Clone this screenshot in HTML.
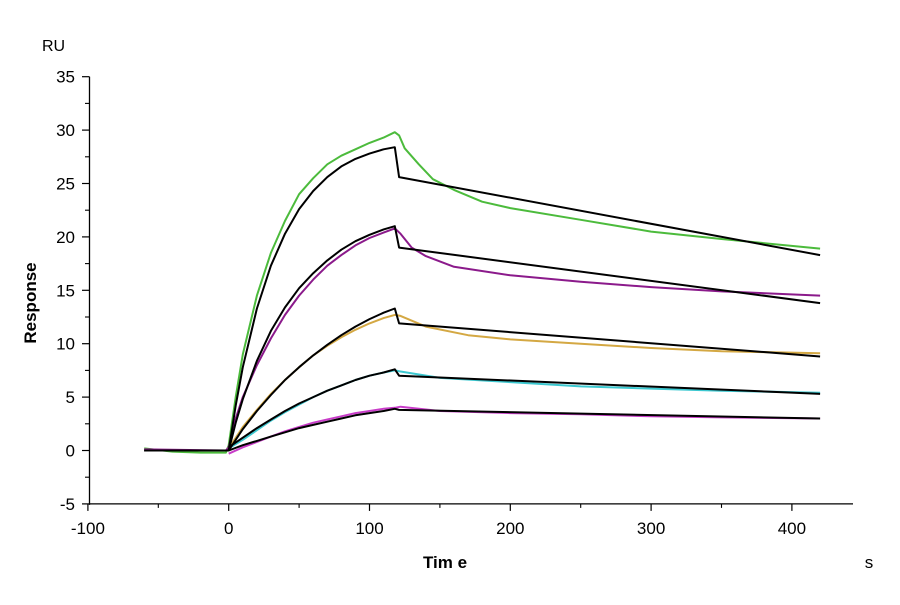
<!DOCTYPE html>
<html><head><meta charset="utf-8"><style>
body{margin:0;background:#fff}
svg text{font-family:"Liberation Sans",Arial,sans-serif;fill:#000}
</style></head><body>
<svg id="chart" width="900" height="600" viewBox="0 0 900 600" xmlns="http://www.w3.org/2000/svg">
<g id="axes"></g><g id="series"></g>
<text x="42" y="51" font-size="16">RU</text>
<text transform="translate(36,303) rotate(-90)" font-size="17" font-weight="bold" text-anchor="middle">Response</text>
<text x="445" y="568" font-size="17" font-weight="bold" text-anchor="middle">Tim e</text>
<text x="869" y="568" font-size="17" text-anchor="middle">s</text>
</svg>
<script>
const xTicks=[-100,0,100,200,300,400];
const yTicks=[-5,0,5,10,15,20,25,30,35];
const baseT=[-60,-40,-20,-2];
const greenRaw=[[-60,0.2],[-40,-0.1],[-20,-0.2],[-2,-0.2],[0,0.5],[5,5],[10,9],[20,14.5],[30,18.5],[40,21.5],[50,24],[60,25.5],[70,26.8],[80,27.6],[90,28.2],[100,28.8],[110,29.3],[118,29.8],[121,29.5],[125,28.3],[135,26.8],[145,25.4],[160,24.4],[180,23.3],[200,22.7],[250,21.6],[300,20.5],[350,19.8],[420,18.9]];
const greenFit=[[-60,0],[0,0],[5,4.2],[10,7.8],[20,13.3],[30,17.3],[40,20.3],[50,22.6],[60,24.3],[70,25.6],[80,26.6],[90,27.3],[100,27.8],[110,28.2],[118,28.4],[121,25.6],[420,18.3]];
const purpleRaw=[[-60,0.1],[-2,0],[0,0.3],[5,3],[10,5],[20,8],[30,10.5],[40,12.7],[50,14.5],[60,16],[70,17.3],[80,18.3],[90,19.2],[100,19.9],[110,20.4],[118,20.8],[122,20.3],[130,19],[140,18.2],[160,17.2],[200,16.4],[250,15.8],[300,15.3],[350,14.9],[420,14.5]];
const purpleFit=[[0,0],[5,2.6],[10,4.8],[20,8.4],[30,11.2],[40,13.4],[50,15.2],[60,16.6],[70,17.8],[80,18.8],[90,19.6],[100,20.2],[110,20.7],[118,21],[121,19],[420,13.8]];
const goldRaw=[[0,0.2],[10,2.2],[20,3.8],[30,5.3],[40,6.6],[50,7.8],[60,8.9],[70,9.8],[80,10.6],[90,11.3],[100,11.9],[110,12.4],[118,12.7],[122,12.6],[140,11.6],[170,10.8],[200,10.4],[250,10],[300,9.6],[350,9.3],[420,9.1]];
const goldFit=[[0,0],[10,2],[20,3.7],[30,5.2],[40,6.6],[50,7.8],[60,8.9],[70,9.9],[80,10.8],[90,11.6],[100,12.3],[110,12.9],[118,13.3],[121,11.9],[420,8.8]];
const cyanRaw=[[0,0.2],[10,1],[20,1.9],[30,2.8],[40,3.6],[50,4.3],[60,5],[70,5.6],[80,6.1],[90,6.6],[100,7],[110,7.3],[118,7.5],[122,7.4],[150,6.8],[200,6.4],[250,6],[300,5.8],[350,5.6],[420,5.4]];
const cyanFit=[[0,0.3],[10,1.2],[20,2.1],[30,2.9],[40,3.7],[50,4.4],[60,5],[70,5.6],[80,6.1],[90,6.6],[100,7],[110,7.3],[118,7.6],[121,7],[420,5.3]];
const magentaRaw=[[0,-0.3],[10,0.3],[20,0.8],[30,1.3],[40,1.8],[50,2.2],[60,2.6],[70,2.9],[80,3.2],[90,3.5],[100,3.7],[110,3.9],[118,4],[122,4.1],[150,3.7],[200,3.5],[250,3.4],[300,3.2],[350,3.1],[420,3]];
const magentaFit=[[0,0],[10,0.5],[20,0.9],[30,1.3],[40,1.7],[50,2.1],[60,2.4],[70,2.7],[80,3],[90,3.3],[100,3.5],[110,3.7],[118,3.9],[121,3.8],[420,3]];
const NS="http://www.w3.org/2000/svg";
const X=t=>228.7+t*1.408;
const Y=v=>450.5-v*10.68;
const axes=document.getElementById('axes');
function mk(tag,attrs,parent){const e=document.createElementNS(NS,tag);for(const k in attrs)e.setAttribute(k,attrs[k]);parent.appendChild(e);return e;}
let l=mk('line',{x1:89.5,y1:Y(-5),x2:853,y2:Y(-5),stroke:'#000','stroke-width':1.3},axes);


l=mk('line',{x1:89.5,y1:Y(-5)+1,x2:89.5,y2:Y(35),stroke:'#000','stroke-width':1.3},axes);


xTicks.forEach(t=>{
 const tk=mk('line',{x1:X(t),y1:Y(-5),x2:X(t),y2:Y(-5)+7,stroke:'#000','stroke-width':1.2},axes);
 
 
 if(t<400){const mt=mk('line',{x1:X(t+50),y1:Y(-5),x2:X(t+50),y2:Y(-5)+4,stroke:'#000','stroke-width':1.1},axes);
 
 }
 const tx=mk('text',{x:X(t),y:534,'font-size':17,'text-anchor':'middle'},axes);
 tx.textContent=t;
 
 
});
yTicks.forEach(v=>{
 const tk=mk('line',{x1:82,y1:Y(v),x2:89.5,y2:Y(v),stroke:'#000','stroke-width':1.2},axes);
 
 
 if(v<35){const mt=mk('line',{x1:85,y1:Y(v+2.5),x2:89.5,y2:Y(v+2.5),stroke:'#000','stroke-width':1.1},axes);
 
 }
 const tx=mk('text',{x:75,y:Y(v)+6,'font-size':17,'text-anchor':'end'},axes);
 tx.textContent=v;
 
 
});
const ser=document.getElementById('series');
function draw(pts,color,name,w){
 const p=mk('polyline',{points:pts.map(d=>X(d[0]).toFixed(1)+','+Y(d[1]).toFixed(1)).join(' '),fill:'none',stroke:color,'stroke-width':w,'stroke-linejoin':'round'},ser);
 
 
}
const base=baseT.map(t=>[t,0]);
draw(greenRaw,'#4cbb3c','series-green-raw',2);
draw(purpleRaw,'#8b1a8b','series-purple-raw',2);
draw(goldRaw,'#d4a843','series-gold-raw',2);
draw(cyanRaw,'#3cc8d0','series-cyan-raw',2);
draw(magentaRaw,'#c83cc8','series-magenta-raw',2);
draw(base,'#000','baseline-fit',2);
draw(greenFit,'#000','fit-green',2);
draw(purpleFit,'#000','fit-purple',2);
draw(goldFit,'#000','fit-gold',2);
draw(cyanFit,'#000','fit-cyan',2);
draw(magentaFit,'#000','fit-magenta',2);
</script>
</body></html>
